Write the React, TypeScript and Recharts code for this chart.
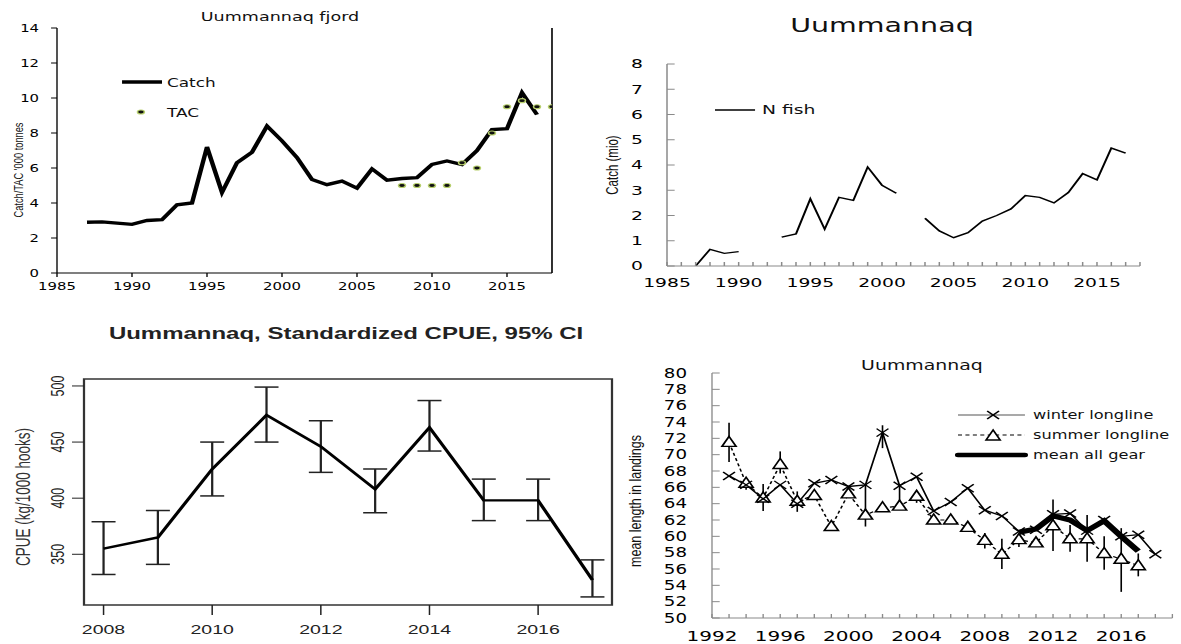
import React from 'react';
import { LineChart, Line, XAxis, YAxis, ErrorBar, ReferenceLine, ReferenceArea } from 'recharts';

// ---------- Panel 1: Uummannaq fjord catch / TAC ('000 tonnes)
const catchYears = [1987, 1988, 1989, 1990, 1991, 1992, 1993, 1994, 1995, 1996, 1997, 1998, 1999, 2000, 2001, 2002, 2003, 2004, 2005, 2006, 2007, 2008, 2009, 2010, 2011, 2012, 2013, 2014, 2015, 2016, 2017, 2018];
const catchTonnes = [2.9, 2.92, 2.85, 2.78, 3.0, 3.05, 3.9, 4.0, 7.2, 4.6, 6.3, 6.9, 8.4, 7.55, 6.6, 5.35, 5.05, 5.25, 4.85, 5.95, 5.3, 5.4, 5.45, 6.2, 6.4, 6.2, 7.0, 8.2, 8.25, 10.3, 9.05, null];
const tacTonnes = [null, null, null, null, null, null, null, null, null, null, null, null, null, null, null, null, null, null, null, null, null, 5, 5, 5, 5, 6.3, 6.0, 8.0, 9.5, 9.85, 9.5, 9.5];
const catchTicksY = [0, 2, 4, 6, 8, 10, 12, 14];
const catchTicksX = [1985, 1990, 1995, 2000, 2005, 2010, 2015];

// ---------- Panel 2: number of fish (mio)
const nFishYears = [1987, 1988, 1989, 1990, 1991, 1992, 1993, 1994, 1995, 1996, 1997, 1998, 1999, 2000, 2001, 2002, 2003, 2004, 2005, 2006, 2007, 2008, 2009, 2010, 2011, 2012, 2013, 2014, 2015, 2016, 2017];
const nFish = [0, 0.66, 0.5, 0.57, null, null, 1.14, 1.27, 2.66, 1.46, 2.72, 2.6, 3.92, 3.2, 2.88, null, 1.89, 1.39, 1.12, 1.32, 1.78, 2.0, 2.26, 2.79, 2.72, 2.5, 2.91, 3.66, 3.41, 4.67, 4.47];
const nFishTicksY = [0, 1, 2, 3, 4, 5, 6, 7, 8];
const nFishTicksX = [1985, 1986, 1987, 1988, 1989, 1990, 1991, 1992, 1993, 1994, 1995, 1996, 1997, 1998, 1999, 2000, 2001, 2002, 2003, 2004, 2005, 2006, 2007, 2008, 2009, 2010, 2011, 2012, 2013, 2014, 2015, 2016, 2017, 2018];

// ---------- Panel 3: standardized CPUE with 95% CI
const cpueYears = [2008, 2009, 2010, 2011, 2012, 2013, 2014, 2015, 2016, 2017];
const cpueMean = [355, 365, 426, 474, 446, 408, 463, 398, 398, 327];
const cpueLow = [332, 341, 402, 450, 423, 387, 442, 380, 380, 312];
const cpueHigh = [379, 389, 450, 499, 469, 426, 487, 417, 417, 345];
const cpueTicksX = [2008, 2010, 2012, 2014, 2016];
const cpueTicksY = [350, 400, 450, 500];

// ---------- Panel 4: mean length in landings
const lengthYears = [1993, 1994, 1995, 1996, 1997, 1998, 1999, 2000, 2001, 2002, 2003, 2004, 2005, 2006, 2007, 2008, 2009, 2010, 2011, 2012, 2013, 2014, 2015, 2016, 2017, 2018];
const winterLength = [67.4, 66.3, 64.6, 66.3, 64.0, 66.5, 66.9, 66.1, 66.3, 72.7, 66.2, 67.3, 63.1, 64.2, 65.9, 63.2, 62.5, 60.6, 60.8, 62.7, 62.8, 60.7, 62.0, 60.0, 60.2, 57.8];
const summerLength = [71.5, 66.5, 64.7, 68.8, 64.3, 65.0, 61.2, 65.2, 62.6, 63.5, 63.7, 64.9, 62.0, 62.0, 61.1, 59.5, 57.8, 59.6, 59.2, 61.3, 59.7, 59.7, 57.9, 57.2, 56.4, null];
const meanAllGear = [null, null, null, null, null, null, null, null, null, null, null, null, null, null, null, null, null, 60.5, 60.9, 62.5, 62.0, 60.7, 61.9, 60.0, 58.2, null];
const summerLow = [69.1, 65.7, 63.1, 67.7, 63.0, null, null, null, 61.2, null, null, 64.1, null, null, null, 58.5, 56.0, 58.7, null, null, 58.1, null, 55.9, null, 55.1, null];
const summerHigh = [73.9, 67.0, 66.4, 70.4, 65.5, null, null, null, 66.3, null, null, 65.5, null, null, null, 60.4, 59.7, 60.2, null, null, 61.4, null, 60.0, null, 57.9, null];
const winterLow = [null, null, null, null, null, null, null, null, null, 70.8, 63.6, null, null, null, null, null, null, null, null, 58.2, null, 56.9, null, 53.2, null, null];
const winterHigh = [null, null, null, null, null, null, null, null, null, 73.6, 66.2, null, null, null, null, null, null, null, null, 64.5, null, 62.6, null, 61.0, null, null];
const lengthTicksY = [50, 52, 54, 56, 58, 60, 62, 64, 66, 68, 70, 72, 74, 76, 78, 80];
const lengthTicksX = [1992, 1993, 1994, 1995, 1996, 1997, 1998, 1999, 2000, 2001, 2002, 2003, 2004, 2005, 2006, 2007, 2008, 2009, 2010, 2011, 2012, 2013, 2014, 2015, 2016, 2017, 2018, 2019];

// ---------- derived tables
const catchData = catchYears.map((year, i) => ({ year, catch: catchTonnes[i], tac: tacTonnes[i] }));
const nFishData = nFishYears.map((year, i) => ({ year, n: nFish[i] }));
const cpueData = cpueYears.map((year, i) => ({
  year,
  cpue: cpueMean[i],
  ci: [cpueMean[i] - cpueLow[i], cpueHigh[i] - cpueMean[i]],
}));
const lengthData = lengthYears.map((year, i) => ({
  year,
  winter: winterLength[i],
  summer: summerLength[i],
  mean: meanAllGear[i],
  winterErr: winterLow[i] != null && winterHigh[i] != null ? [winterLength[i] - (winterLow[i] as number), (winterHigh[i] as number) - winterLength[i]] : null,
  summerErr: summerLow[i] != null && summerHigh[i] != null && summerLength[i] != null ? [(summerLength[i] as number) - (summerLow[i] as number), (summerHigh[i] as number) - (summerLength[i] as number)] : null,
}));

const SANS = '"DejaVu Sans", Verdana, sans-serif';
const ARIAL = '"Liberation Sans", Arial, sans-serif';

function Panel(props: { left: number; top: number; w: number; h: number; s: number; children: any }) {
  const { left, top, w, h, s, children } = props;
  return (
    <div style={{ position: 'absolute', left, top, width: w / s, height: h, transform: `scaleX(${s})`, transformOrigin: '0 0' }}>
      {children}
    </div>
  );
}

function Overlay(props: { w: number; h: number; children: any }) {
  return (
    <svg width={props.w} height={props.h} style={{ position: 'absolute', left: 0, top: 0, pointerEvents: 'none', overflow: 'visible' }}>
      {props.children}
    </svg>
  );
}

function TacDot(props: any) {
  const { cx, cy, index } = props;
  if (cx == null || cy == null || Number.isNaN(cy)) return <g key={`t${index}`} />;
  return <ellipse key={`t${index}`} cx={cx} cy={cy} rx={2.6} ry={2} fill="#111" stroke="#b8d06c" strokeWidth={1.1} />;
}

function CrossDot(props: any) {
  const { cx, cy, index } = props;
  if (cx == null || cy == null || Number.isNaN(cy)) return <g key={`x${index}`} />;
  return (
    <g key={`x${index}`} stroke="#000" strokeWidth={1.3}>
      <line x1={cx - 4.4} y1={cy - 4} x2={cx + 4.4} y2={cy + 4} />
      <line x1={cx - 4.4} y1={cy + 4} x2={cx + 4.4} y2={cy - 4} />
    </g>
  );
}

function TriDot(props: any) {
  const { cx, cy, index } = props;
  if (cx == null || cy == null || Number.isNaN(cy)) return <g key={`v${index}`} />;
  return (
    <polygon
      key={`v${index}`}
      points={`${cx},${cy - 6} ${cx - 5.2},${cy + 4} ${cx + 5.2},${cy + 4}`}
      fill="#fff"
      stroke="#000"
      strokeWidth={1.4}
    />
  );
}

const yearTick = (every: number, fontSize: number) => (props: any) => {
  const { x, y, payload } = props;
  if (payload.value % every !== 0) return <g />;
  return (
    <text x={x} y={y} dy="0.71em" textAnchor="middle" fontSize={fontSize} fontFamily={SANS} fill="#000">
      {payload.value}
    </text>
  );
};

const rotTick = (props: any) => {
  const { x, y, payload } = props;
  return (
    <text x={x} y={y} transform={`rotate(-90 ${x} ${y})`} textAnchor="middle" fontSize={12.5} fontFamily={ARIAL} fill="#222">
      {payload.value}
    </text>
  );
};

function CatchPanel() {
  const s = 1.35, w = 580, h = 300;
  const iw = w / s;
  return (
    <Panel left={0} top={0} w={w} h={h} s={s}>
      <LineChart width={iw} height={h} data={catchData} margin={{ top: 28, right: iw - 552 / s, bottom: 0, left: 0 }}>
        <XAxis dataKey="year" type="number" domain={[1985, 2018]} ticks={catchTicksX} interval={0} allowDataOverflow
          height={27} tickSize={4} tickMargin={5.2} stroke="#000" tick={{ fontSize: 11, fontFamily: SANS, fill: '#000' }} />
        <YAxis type="number" domain={[0, 14]} ticks={catchTicksY} interval={0} allowDataOverflow
          width={57 / s} tickSize={4.4} tickMargin={8.9} stroke="#000" tick={{ fontSize: 11, fontFamily: SANS, fill: '#000' }} />
        <ReferenceLine x={2018} stroke="#000" strokeWidth={1.2} ifOverflow="visible" />
        <Line dataKey="catch" stroke="#000" strokeWidth={3.3} dot={false} activeDot={false} isAnimationActive={false} connectNulls={false} />
        <Line dataKey="tac" stroke="none" dot={TacDot} activeDot={false} isAnimationActive={false} />
      </LineChart>
      <Overlay w={iw} h={h}>
        <text x={207.4} y={17} textAnchor="middle" dominantBaseline="central" fontSize={13} fontFamily={SANS} fill="#111">Uummannaq fjord</text>
        <text x={13.3} y={170} transform="rotate(-90 13.3 170)" textAnchor="middle" dominantBaseline="central" fontSize={9.3} fontFamily={ARIAL} fill="#111">Catch/TAC '000 tonnes</text>
        <line x1={90.4} y1={82} x2={120} y2={82} stroke="#000" strokeWidth={3.3} />
        <text x={123.7} y={82} dominantBaseline="central" fontSize={12.5} fontFamily={SANS} fill="#111">Catch</text>
        <ellipse cx={104.4} cy={112} rx={2.6} ry={2} fill="#111" stroke="#b8d06c" strokeWidth={1.1} />
        <text x={123.7} y={112} dominantBaseline="central" fontSize={12.5} fontFamily={SANS} fill="#111">TAC</text>
      </Overlay>
    </Panel>
  );
}

function FishPanel() {
  const s = 1.5, w = 601, h = 300;
  const iw = w / s;
  return (
    <Panel left={580} top={0} w={w} h={h} s={s}>
      <LineChart width={iw} height={h} data={nFishData} margin={{ top: 64, right: iw - 560 / s, bottom: 0, left: 0 }}>
        <XAxis dataKey="year" type="number" domain={[1985, 2018]} ticks={nFishTicksX} interval={0} allowDataOverflow
          height={34} tickSize={-4} tickMargin={16.6} stroke="#8a8a8a" tick={yearTick(5, 12.5)} />
        <YAxis type="number" domain={[0, 8]} ticks={nFishTicksY} interval={0} allowDataOverflow
          width={87 / s} tickSize={-5.1} tickMargin={21.1} stroke="#8a8a8a" tick={{ fontSize: 12.5, fontFamily: SANS, fill: '#000' }} />
        <Line dataKey="n" stroke="#000" strokeWidth={1.4} dot={false} activeDot={false} isAnimationActive={false} connectNulls={false} />
      </LineChart>
      <Overlay w={iw} h={h}>
        <text x={201.3} y={26} textAnchor="middle" dominantBaseline="central" fontSize={19} fontFamily={SANS} fill="#111">Uummannaq</text>
        <text x={21.3} y={165} transform="rotate(-90 21.3 165)" textAnchor="middle" dominantBaseline="central" fontSize={11.5} fontFamily={ARIAL} fill="#111">Catch (mio)</text>
        <line x1={90} y1={110} x2={116.7} y2={110} stroke="#000" strokeWidth={1.3} />
        <text x={121.3} y={110} dominantBaseline="central" fontSize={12.5} fontFamily={SANS} fill="#111">N fish</text>
      </Overlay>
    </Panel>
  );
}

function CpuePanel() {
  const s = 1.5, w = 620, h = 344;
  const iw = w / s;
  const x0 = 2007.64, x1 = 2017.36, y0 = 304.8, y1 = 506.2;
  return (
    <Panel left={0} top={300} w={w} h={h} s={s}>
      <LineChart width={iw} height={h} data={cpueData} margin={{ top: 79, right: iw - 408, bottom: 0, left: 0 }}>
        <XAxis dataKey="year" type="number" domain={[x0, x1]} ticks={cpueTicksX} interval={0} allowDataOverflow
          height={39} tickSize={10} tickMargin={9.5} axisLine={false} stroke="#222"
          tick={{ fontSize: 13, fontFamily: ARIAL, fill: '#222' }} />
        <YAxis type="number" domain={[y0, y1]} ticks={cpueTicksY} interval={0} allowDataOverflow
          width={56} tickSize={8} tickMargin={5.5} axisLine={false} stroke="#222" tick={rotTick} />
        <ReferenceArea x1={x0} x2={x1} y1={y0} y2={y1} fill="none" stroke="#333" strokeWidth={1.5} ifOverflow="visible" />
        <Line dataKey="cpue" stroke="#000" strokeWidth={2.4} dot={false} activeDot={false} isAnimationActive={false}>
          <ErrorBar dataKey="ci" width={8} stroke="#222" strokeWidth={1.5} direction="y" />
        </Line>
      </LineChart>
      <Overlay w={iw} h={h}>
        <text x={230.7} y={34} textAnchor="middle" dominantBaseline="central" fontSize={16} fontWeight="bold" fontFamily={ARIAL} fill="#222">Uummannaq, Standardized CPUE, 95% CI</text>
        <text x={15.3} y={197} transform="rotate(-90 15.3 197)" textAnchor="middle" dominantBaseline="central" fontSize={13.5} fontFamily={ARIAL} fill="#333">CPUE (kg/1000 hooks)</text>
      </Overlay>
    </Panel>
  );
}

function LengthPanel() {
  const s = 1.35, w = 601, h = 324;
  const iw = w / s;
  const plotRight = (1172.4 - 580) / s;
  return (
    <Panel left={580} top={320} w={w} h={h} s={s}>
      <LineChart width={iw} height={h} data={lengthData} margin={{ top: 53, right: iw - plotRight, bottom: 0, left: 0 }}>
        <XAxis dataKey="year" type="number" domain={[1992, 2019]} ticks={lengthTicksX} interval={0} allowDataOverflow
          height={26} tickSize={-4} tickMargin={16.1} stroke="#8a8a8a" tick={yearTick(4, 14.8)} />
        <YAxis type="number" domain={[50, 80]} ticks={lengthTicksY} interval={0} allowDataOverflow
          width={132 / s} tickSize={-5.7} tickMargin={24.2} stroke="#8a8a8a" tick={{ fontSize: 13.5, fontFamily: SANS, fill: '#000' }} />
        <Line dataKey="summer" stroke="#000" strokeWidth={1.2} strokeDasharray="3 2.5" dot={TriDot} activeDot={false} isAnimationActive={false}>
          <ErrorBar dataKey="summerErr" width={0} stroke="#000" strokeWidth={1.2} direction="y" />
        </Line>
        <Line dataKey="winter" stroke="#000" strokeWidth={1.3} dot={CrossDot} activeDot={false} isAnimationActive={false}>
          <ErrorBar dataKey="winterErr" width={0} stroke="#000" strokeWidth={1.2} direction="y" />
        </Line>
        <Line dataKey="mean" stroke="#000" strokeWidth={5} dot={false} activeDot={false} isAnimationActive={false} connectNulls={false} />
      </LineChart>
      <Overlay w={iw} h={h}>
        <text x={253.3} y={45} textAnchor="middle" dominantBaseline="central" fontSize={14} fontFamily={SANS} fill="#111">Uummannaq</text>
        <text x={40.7} y={181} transform="rotate(-90 40.7 181)" textAnchor="middle" dominantBaseline="central" fontSize={12.5} fontFamily={ARIAL} fill="#111">mean length in landings</text>
        <line x1={280} y1={95} x2={329.6} y2={95} stroke="#555" strokeWidth={1.2} />
        <CrossDot cx={306} cy={95} index={900} />
        <text x={335.6} y={95} dominantBaseline="central" fontSize={12} fontFamily={SANS} fill="#111">winter longline</text>
        <line x1={280} y1={115} x2={329.6} y2={115} stroke="#000" strokeWidth={1.2} strokeDasharray="3 2.5" />
        <TriDot cx={306} cy={116} index={901} />
        <text x={335.6} y={115} dominantBaseline="central" fontSize={12} fontFamily={SANS} fill="#111">summer longline</text>
        <line x1={280} y1={135} x2={329.6} y2={135} stroke="#000" strokeWidth={4.5} strokeLinecap="round" />
        <text x={335.6} y={135} dominantBaseline="central" fontSize={12} fontFamily={SANS} fill="#111">mean all gear</text>
      </Overlay>
    </Panel>
  );
}

export default function App() {
  return (
    <div style={{ position: 'absolute', left: 0, top: 0, width: 1181, height: 644, background: '#fff', overflow: 'hidden' }}>
      <CatchPanel />
      <FishPanel />
      <CpuePanel />
      <LengthPanel />
    </div>
  );
}
